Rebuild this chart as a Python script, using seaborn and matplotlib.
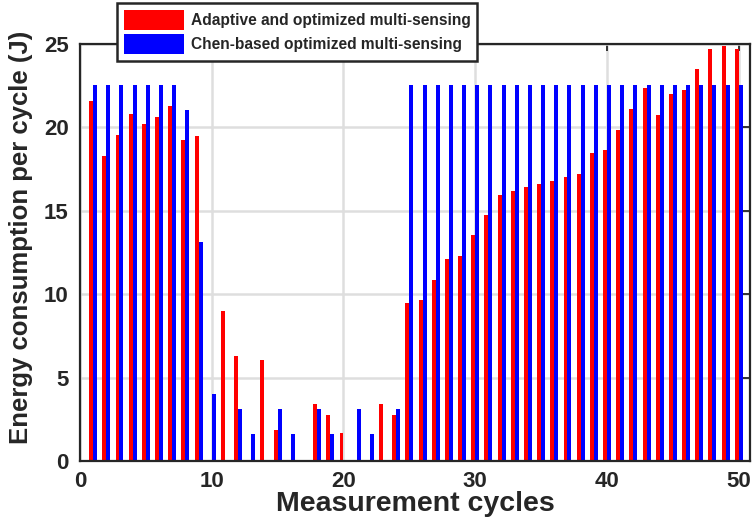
import pandas as pd
import matplotlib
matplotlib.use("Agg")
import matplotlib.pyplot as plt
import seaborn as sns

# Values
cycles = [1, 2, 3, 4, 5, 6, 7, 8, 9, 10,
          11, 12, 13, 14, 15, 16, 17, 18, 19, 20,
          21, 22, 23, 24, 25, 26, 27, 28, 29, 30,
          31, 32, 33, 34, 35, 36, 37, 38, 39, 40,
          41, 42, 43, 44, 45, 46, 47, 48, 49, 50]

adaptive = [21.55, 18.3, 19.55, 20.8, 20.2, 20.6, 21.25, 19.2, 19.45, 0.0,
            9.0, 6.3, 0.0, 6.1, 1.9, 0.0, 0.0, 3.45, 2.8, 1.7,
            0.0, 0.0, 3.45, 2.8, 9.45, 9.65, 10.85, 12.1, 12.3, 13.55,
            14.75, 15.95, 16.15, 16.4, 16.6, 16.8, 17.0, 17.2, 18.45, 18.65,
            19.85, 21.1, 22.35, 20.75, 22.0, 22.2, 23.45, 24.65, 24.85, 24.7]

chen = [22.5, 22.5, 22.5, 22.5, 22.5, 22.5, 22.5, 21.05, 13.1, 4.05,
        0.0, 3.15, 1.65, 0.0, 3.15, 1.65, 0.0, 3.15, 1.65, 0.0,
        3.15, 1.65, 0.0, 3.15, 22.5, 22.5, 22.5, 22.5, 22.5, 22.5,
        22.5, 22.5, 22.5, 22.5, 22.5, 22.5, 22.5, 22.5, 22.5, 22.5,
        22.5, 22.5, 22.5, 22.5, 22.5, 22.5, 22.5, 22.5, 22.5, 22.5]

series_names = ["Adaptive and optimized multi-sensing",
                "Chen-based optimized multi-sensing"]
series_colors = ["#ff0000", "#0000ff"]

df = pd.DataFrame({
    "cycle": cycles * 2,
    "energy": adaptive + chen,
    "method": [series_names[0]] * len(cycles) + [series_names[1]] * len(cycles),
})

sns.set_style("white")
plt.rcParams["font.family"] = ["Liberation Sans", "DejaVu Sans"]
plt.rcParams["font.weight"] = "bold"

fig = plt.figure(figsize=(7.53, 5.23), dpi=100)
ax = fig.add_axes([0.1062, 0.1176, 0.8898, 0.7992])

sns.barplot(data=df, x="cycle", y="energy", hue="method", native_scale=True,
            width=0.6, palette=series_colors, saturation=1, linewidth=0,
            errorbar=None, ax=ax, zorder=2)

ax.set_xlim(0, 50.85)
ax.set_ylim(0, 25)
ax.set_xticks([0, 10, 20, 30, 40, 50])
ax.set_yticks([0, 5, 10, 15, 20, 25])
ax.grid(True, color="#dedede", linewidth=1.8, zorder=0)
ax.set_axisbelow(True)

for s in ax.spines.values():
    s.set_visible(True)
    s.set_color("#262626")
    s.set_linewidth(1.6)

ax.tick_params(direction="in", length=5, width=1.3, color="#262626",
               top=True, right=True, labelsize=16, labelcolor="#262626")
ax.tick_params(axis="x", pad=7)
ax.tick_params(axis="y", pad=8)
for lbl in ax.get_xticklabels() + ax.get_yticklabels():
    lbl.set_fontweight("bold")

ax.set_xlabel("Measurement cycles", fontsize=20.5, fontweight="bold",
              labelpad=-1, color="#262626")
ax.set_ylabel("Energy consumption per cycle (J)", fontsize=18.5,
              fontweight="bold", color="#262626")
ax.yaxis.set_label_coords(-0.07, 0.536)

handles, labels = ax.get_legend_handles_labels()
leg = ax.legend(handles, labels, loc="upper left", bbox_to_anchor=(0.156, 0.994),
                bbox_transform=fig.transFigure, frameon=True,
                fancybox=False, edgecolor="#262626", framealpha=1,
                handlelength=3.85, handleheight=1.55, handletextpad=0.4,
                borderpad=0.45, borderaxespad=0, labelspacing=0.3,
                prop={"weight": "bold", "size": 11.2})
leg.get_frame().set_linewidth(1.8)

fig.savefig("out.png", dpi=100)
